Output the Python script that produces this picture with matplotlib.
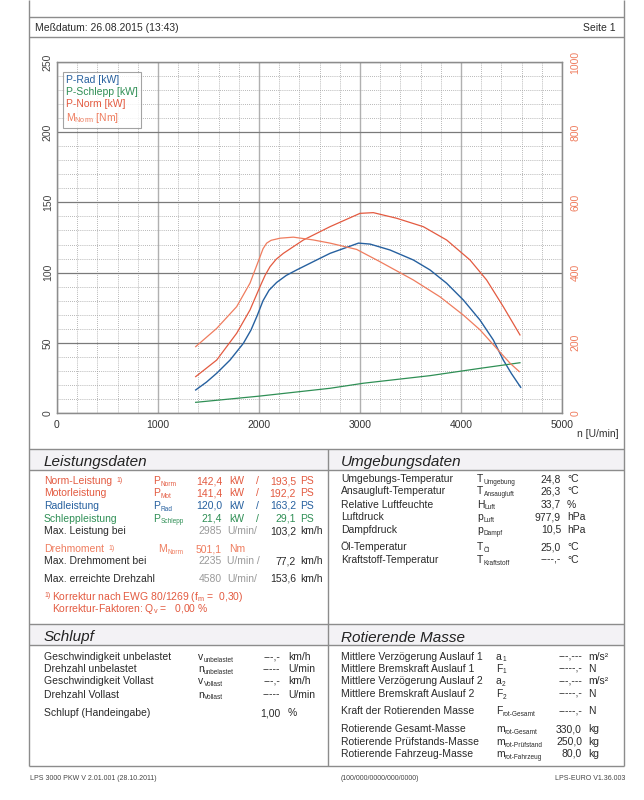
import numpy as np
import matplotlib.pyplot as plt
from matplotlib.patches import Rectangle

plt.rcParams['font.family'] = ['Liberation Sans', 'DejaVu Sans']
plt.rcParams['mathtext.fontset'] = 'custom'
plt.rcParams['mathtext.rm'] = 'Liberation Sans'
plt.rcParams['mathtext.it'] = 'Liberation Sans:italic'

# --- curve data read from the dyno sheet ---
rpm_rad = [1373, 1480, 1581, 1713, 1845, 1920, 1980, 2040, 2100, 2175, 2270, 2373, 2571,
           2703, 2850, 2985, 3100, 3297, 3528, 3693, 3858, 4023, 4188, 4320, 4419, 4500, 4591]
p_rad = [16.4, 22.0, 28.3, 37.7, 49.6, 59.0, 69.0, 80.0, 87.5, 93.0, 98.0, 101.9, 109.0,
         113.7, 117.5, 121.0, 120.3, 116.1, 109.0, 101.9, 92.4, 80.5, 66.2, 52.0, 37.7, 28.0, 18.3]

rpm_norm = [1373, 1581, 1779, 1911, 2010, 2060, 2109, 2170, 2241, 2439, 2703, 3000, 3132,
            3363, 3627, 3858, 4089, 4254, 4419, 4584]
p_norm = [25.9, 37.7, 56.8, 73.4, 90.0, 98.0, 104.2, 109.5, 113.7, 123.2, 132.7, 142.2, 142.7,
          138.7, 132.7, 123.2, 109.0, 94.7, 75.7, 55.6]

rpm_m = [1373, 1581, 1779, 1911, 2010, 2040, 2076, 2120, 2208, 2340, 2538, 2703, 2967,
         3198, 3528, 3792, 4023, 4188, 4353, 4485, 4577]
m_norm = [189, 241, 303, 370, 445, 468, 484, 492, 498, 501, 493, 484, 466,
          431, 379, 331, 279, 237, 184, 142, 118]

rpm_schlepp = [1373, 2000, 2703, 3033, 3693, 4188, 4584]
p_schlepp = [7.6, 12.0, 17.6, 21.2, 26.6, 31.8, 35.8]

x_ticks = [0, 1000, 2000, 3000, 4000, 5000]
kw_ticks = [0, 50, 100, 150, 200, 250]
nm_ticks = [0, 200, 400, 600, 800, 1000]

# colours
BLUE = '#26609f'
GREEN = '#2f8f55'
RED = '#e35a40'
ORG = '#ef7c5e'
GRAY = '#9a9a9a'
TXT = '#2a2a2a'
LINE = '#8c8c8c'
FS = 7.5
SUB = 4.7

fig = plt.figure(figsize=(6.44, 8), dpi=100)

# page layer in pixel coordinates
pg = fig.add_axes([0, 0, 1, 1], zorder=0)
pg.set_xlim(0, 644)
pg.set_ylim(800, 0)
pg.axis('off')

# --- chart ---
ax = fig.add_axes([57 / 644, 1 - 413 / 800, 505 / 644, 351 / 800], zorder=2)
ax.set_facecolor('none')
ax.set_xlim(0, 5000)
ax.set_ylim(0, 250)
ax.set_xticks(x_ticks)
ax.set_xticks(np.arange(0, 5001, 200), minor=True)
ax.set_yticks(kw_ticks)
ax.set_yticks(np.arange(0, 251, 10), minor=True)
ax.xaxis.grid(True, which='major', color='#b0b0b0', lw=1.0)
ax.yaxis.grid(True, which='major', color='#7a7a7a', lw=0.9)
ax.grid(True, which='minor', color='#a0a0a0', lw=0.6, ls=(0, (1, 1.5)))
ax.set_axisbelow(True)
ax.tick_params(which='both', length=0)
ax.tick_params(axis='x', labelsize=7.5, colors='#333333', pad=5)
ax.tick_params(axis='y', labelsize=7.5, colors='#444444', pad=3, labelrotation=90)
for lbl in ax.get_yticklabels():
    lbl.set_va('center')
for s in ax.spines.values():
    s.set_color(LINE)
    s.set_linewidth(0.9)

ax2 = ax.twinx()
ax2.set_ylim(0, 1000)
ax2.set_yticks(nm_ticks)
ax2.tick_params(axis='y', length=0, labelsize=7.5, colors=ORG, pad=6, labelrotation=90)
for lbl in ax2.get_yticklabels():
    lbl.set_va('center')
for s in ax2.spines.values():
    s.set_color(LINE)
    s.set_linewidth(0.9)

l_rad, = ax.plot(rpm_rad, p_rad, color=BLUE, lw=1.0, label='P-Rad [kW]')
l_sch, = ax.plot(rpm_schlepp, p_schlepp, color=GREEN, lw=0.9, label='P-Schlepp [kW]')
l_norm, = ax.plot(rpm_norm, p_norm, color=RED, lw=0.9, label='P-Norm [kW]')
l_m, = ax2.plot(rpm_m, m_norm, color=ORG, lw=0.9, label=r'M$_{\mathrm{Norm}}$ [Nm]')

handles = [l_rad, l_sch, l_norm, l_m]
leg = ax2.legend(handles, [h.get_label() for h in handles], loc='upper left',
                 bbox_to_anchor=(0.012, 0.972), handlelength=0, handletextpad=0,
                 fontsize=7.5, frameon=True, fancybox=False, edgecolor=LINE,
                 borderpad=0.3, labelspacing=0.2, borderaxespad=0)
leg.get_frame().set_linewidth(0.8)
for t, h in zip(leg.get_texts(), handles):
    t.set_color(h.get_color())
for h in leg.legend_handles:
    h.set_visible(False)

pg.text(577, 437, 'n [U/min]', fontsize=7.5, color='#333333', va='baseline')

# --- page frame ---
pg.vlines([29, 624], 0, 766, color=LINE, lw=1.0)
pg.hlines([17, 37], 29, 624, color=LINE, lw=1.0)
pg.text(35, 31, 'Meßdatum: 26.08.2015 (13:43)', fontsize=FS, color=TXT, va='baseline')
pg.text(616, 31, 'Seite 1', fontsize=FS, color=TXT, va='baseline', ha='right')

for top, bot in [(449, 470), (624, 645)]:
    pg.add_patch(Rectangle((29, top), 595, bot - top, facecolor='#f3f2f5', edgecolor='none'))
pg.hlines([449, 470, 624, 645, 766], 29, 624, color=LINE, lw=1.0)
pg.vlines([328], 449, 766, color=LINE, lw=1.0)

for x, y, title in [(44, 466, 'Leistungsdaten'), (341, 466, 'Umgebungsdaten'),
                    (44, 641.5, 'Schlupf'), (341, 641.5, 'Rotierende Masse')]:
    pg.text(x, y, title, fontsize=11, style='italic', color='#222222', va='baseline')


def txt(x, y, s, color=TXT, ha='left', fs=FS):
    return pg.text(x, y, s, color=color, fontsize=fs, ha=ha, va='baseline')


def sym(x, y, base, sub, color=TXT):
    t = txt(x, y, base, color)
    pg.annotate(sub, xy=(1, 0), xycoords=t, xytext=(0.2, 0.3), textcoords='offset points',
                fontsize=SUB, color=color, va='baseline', ha='left')


def note(t, color):
    pg.annotate('1)', xy=(1, 0), xycoords=t, xytext=(3, 3.2), textcoords='offset points',
                fontsize=5, color=color, va='baseline', ha='left')


# Leistungsdaten
power_rows = [
    ('Norm-Leistung', 'P', 'Norm', '142,4', '193,5', RED, True),
    ('Motorleistung', 'P', 'Mot', '141,4', '192,2', RED, False),
    ('Radleistung', 'P', 'Rad', '120,0', '163,2', BLUE, False),
    ('Schleppleistung', 'P', 'Schlepp', '21,4', '29,1', GREEN, False),
]
base_y = [484, 496.5, 509, 521.5]
for (lab, b, s, kw, ps, c, fn), y in zip(power_rows, base_y):
    t = txt(44, y, lab, c)
    if fn:
        note(t, c)
    sym(153, y, b, s, c)
    txt(222, y, kw, c, ha='right')
    txt(229, y, 'kW', c)
    txt(257, y, '/', c, ha='center')
    txt(296, y, ps, c, ha='right')
    txt(300, y, 'PS', c)

speed_rows = [
    ('Max. Leistung bei', 534, '2985', 'U/min/', '103,2'),
    ('Max. Drehmoment bei', 564, '2235', 'U/min /', '77,2'),
    ('Max. erreichte Drehzahl', 581.5, '4580', 'U/min/', '153,6'),
]
for lab, y, n, u, v in speed_rows:
    txt(44, y, lab)
    txt(222, y, n, GRAY, ha='right')
    txt(227, y, u, GRAY)
    txt(296, y, v, ha='right')
    txt(300, y, 'km/h')

t = txt(44, 552, 'Drehmoment', ORG)
note(t, ORG)
sym(158, 552, 'M', 'Norm', ORG)
txt(222, 552, '501,1', ORG, ha='right')
txt(229, 552, 'Nm', ORG)

txt(44, 597, '1)', RED, fs=5)
txt(52, 599.5, r'Korrektur nach EWG 80/1269 (f$_{\mathrm{m}}$ =  0,30)', RED)
txt(52, 612, r'Korrektur-Faktoren: Q$_{\mathrm{v}}$ =   0,00 %', RED)

# Umgebungsdaten
env_rows = [
    ('Umgebungs-Temperatur', 'T', 'Umgebung', '24,8', '°C', 482),
    ('Ansaugluft-Temperatur', 'T', 'Ansaugluft', '26,3', '°C', 494.5),
    ('Relative Luftfeuchte', 'H', 'Luft', '33,7', '%', 507.5),
    ('Luftdruck', 'p', 'Luft', '977,9', 'hPa', 520),
    ('Dampfdruck', 'p', 'Dampf', '10,5', 'hPa', 533),
    ('Öl-Temperatur', 'T', 'Öl', '25,0', '°C', 550),
    ('Kraftstoff-Temperatur', 'T', 'Kraftstoff', '----,-', '°C', 563),
]
for lab, b, s, v, u, y in env_rows:
    txt(341, y, lab)
    sym(477, y, b, s)
    txt(561, y, v, ha='right')
    txt(567, y, u)

# Schlupf
slip_rows = [
    ('Geschwindigkeit unbelastet', 'v', 'unbelastet', '---,-', 'km/h', 660),
    ('Drehzahl unbelastet', 'n', 'unbelastet', '-----', 'U/min', 672),
    ('Geschwindigkeit Vollast', 'v', 'Vollast', '---,-', 'km/h', 684.5),
    ('Drehzahl Vollast', 'n', 'Vollast', '-----', 'U/min', 697.5),
    ('Schlupf (Handeingabe)', '', '', '1,00', '%', 716),
]
for lab, b, s, v, u, y in slip_rows:
    txt(44, y, lab)
    if b:
        sym(198, y, b, s)
    txt(280, y, v, ha='right')
    txt(288, y, u)

# Rotierende Masse
mass_rows = [
    ('Mittlere Verzögerung Auslauf 1', 'a', '1', '---,---', 'm/s²', 659.5),
    ('Mittlere Bremskraft Auslauf 1', 'F', '1', '-----,-', 'N', 671.5),
    ('Mittlere Verzögerung Auslauf 2', 'a', '2', '---,---', 'm/s²', 684),
    ('Mittlere Bremskraft Auslauf 2', 'F', '2', '-----,-', 'N', 697),
    ('Kraft der Rotierenden Masse', 'F', 'rot-Gesamt', '-----,-', 'N', 714.5),
    ('Rotierende Gesamt-Masse', 'm', 'rot-Gesamt', '330,0', 'kg', 732),
    ('Rotierende Prüfstands-Masse', 'm', 'rot-Prüfstand', '250,0', 'kg', 745),
    ('Rotierende Fahrzeug-Masse', 'm', 'rot-Fahrzeug', '80,0', 'kg', 757),
]
for lab, b, s, v, u, y in mass_rows:
    txt(341, y, lab)
    sym(496, y, b, s)
    txt(582, y, v, ha='right')
    txt(588, y, u)

# footer
pg.text(30, 780, 'LPS 3000 PKW V 2.01.001 (28.10.2011)', fontsize=5, color='#444444', va='baseline')
pg.text(380, 780, '(100/000/0000/000/0000)', fontsize=5, color='#444444', va='baseline', ha='center')
pg.text(625, 780, 'LPS-EURO V1.36.003', fontsize=5, color='#444444', va='baseline', ha='right')

fig.savefig('out.png', dpi=100)
